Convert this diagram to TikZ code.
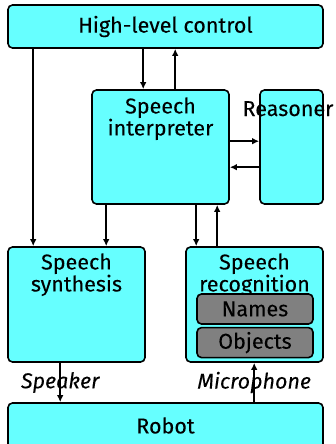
\documentclass[tikz,border=0pt]{standalone}
\usepackage{fontspec}
\setmainfont{Fira Sans}[UprightFeatures={FakeBold=0.05},ItalicFeatures={FakeBold=0.05}]
\usetikzlibrary{positioning,arrows.meta}
\definecolor{boxcyan}{RGB}{102,255,255}
\definecolor{boxgray}{RGB}{128,128,128}

\begin{document}
\begin{tikzpicture}[x=1pt,y=-1pt,font=\fontsize{21.5}{22}\selectfont,
    block/.style={draw,fill=boxcyan,rounded corners=4.5pt,line width=1.6pt,inner sep=0pt},
    subblock/.style={block,fill=boxgray,minimum width=116pt,minimum height=30pt},
    toptext/.style={anchor=north,align=center,inner sep=0pt},
    flow/.style={-{Latex[length=7pt,width=6.5pt]},line width=1.6pt},
    chan/.style={font=\fontsize{21.5}{22}\selectfont\itshape,inner sep=0pt}]
\useasboundingbox (0,0) rectangle (336,444);
\clip (0,0) rectangle (336,444);

\node[block,minimum width=315pt,minimum height=43pt] (hlc) at (165.5,26.5) {High-level control};
\node[block,minimum width=137pt,minimum height=114pt] (interp) at (160.5,147) {};
\node[toptext,below=8pt of interp.north] (interp-txt) {Speech\\interpreter};
\node[block,minimum width=63pt,minimum height=114pt] (reas) at (291.5,147) {};
\node[anchor=base,inner sep=0pt] (reas-txt) at (288,116) {Reasoner};
\node[block,minimum width=137pt,minimum height=115pt] (synth) at (76.5,304.5) {};
\node[toptext,below=7pt of synth.north] (synth-txt) {Speech\\synthesis};
\node[block,minimum width=137pt,minimum height=115pt] (recog) at (254.5,304.5) {};
\node[toptext,below=7pt of recog.north] (recog-txt) {Speech\\recognition};
\node[subblock] (names) at (255,309) {Names};
\node[subblock,below=2pt of names] (objects) {Objects};
\node[block,minimum width=315pt,minimum height=45pt] (robot) at (165.5,425.5) {Robot};

\draw[flow] ([xshift=26pt]hlc.south west) -- ([xshift=26pt]synth.north west);
\draw[flow] ([xshift=52pt]interp.north west |- hlc.south) -- ([xshift=52pt]interp.north west);
\draw[flow] ([xshift=84pt]interp.north west) -- ([xshift=84pt]interp.north west |- hlc.south);
\draw[flow] ([yshift=-52pt]interp.north east) -- ([yshift=-52pt]interp.north east -| reas.west);
\draw[flow] ([yshift=-78pt]reas.north west) -- ([yshift=-78pt]reas.north west -| interp.east);
\draw[flow] ([xshift=15pt]interp.south west) -- ([xshift=15pt]interp.south west |- synth.north);
\draw[flow] ([xshift=11pt]recog.north west |- interp.south) -- ([xshift=11pt]recog.north west);
\draw[flow] ([xshift=32pt]recog.north west) -- ([xshift=32pt]recog.north west |- interp.south);
\draw[flow] ([xshift=53pt]synth.south west) -- node[chan] (spk) {Speaker} ([xshift=53pt]synth.south west |- robot.north);
\draw[flow] ([xshift=69pt]recog.south west |- robot.north) -- node[chan] (mic) {Microphone} ([xshift=69pt]recog.south west);
\end{tikzpicture}
\end{document}
